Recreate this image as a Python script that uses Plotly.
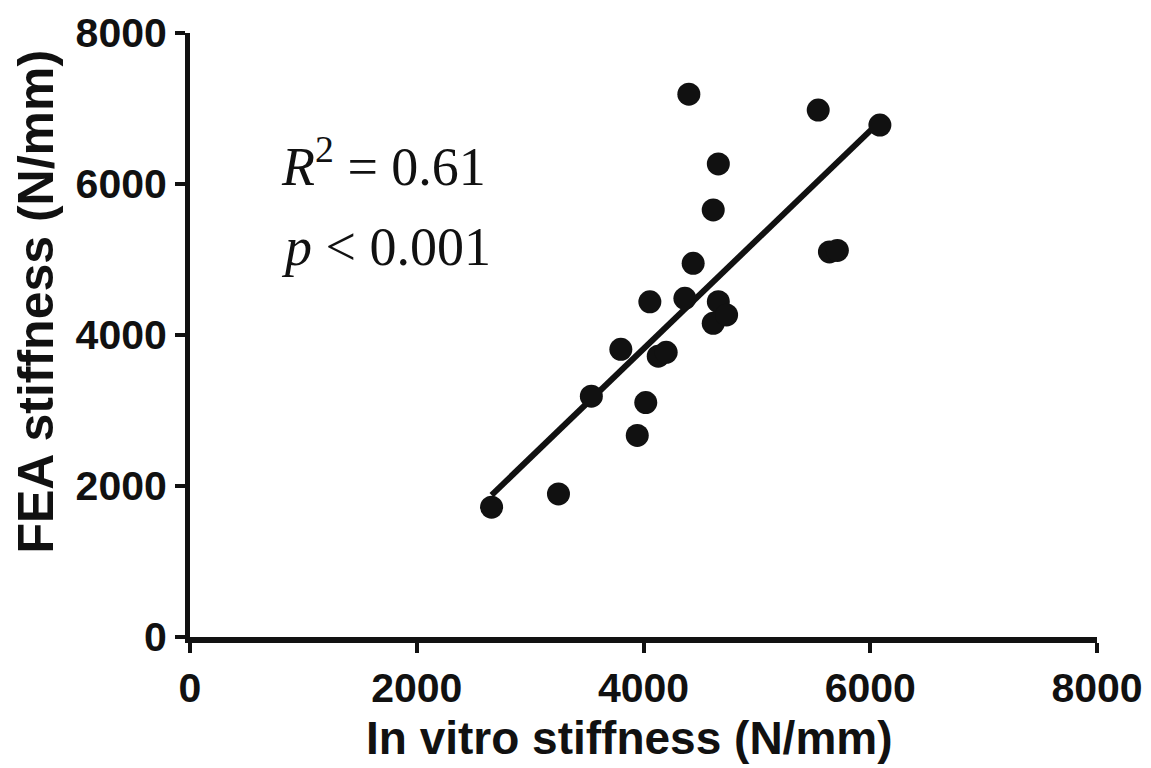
import plotly.graph_objects as go

# Data
in_vitro = [2660, 3250, 3540, 3800, 3945, 4020, 4056, 4130, 4200, 4365, 4400,
            4438, 4615, 4615, 4660, 4660, 4733, 5541, 5640, 5710, 6085]
fea = [1720, 1895, 3190, 3810, 2670, 3105, 4440, 3720, 3770, 4486, 7190,
       4950, 4155, 5656, 4441, 6265, 4265, 6980, 5100, 5120, 6780]

fit_x = [2660, 6085]
fit_y = [1880, 6830]

tick_vals = [0, 2000, 4000, 6000, 8000]
tick_text = ["0", "2000", "4000", "6000", "8000"]

x_title = "In vitro stiffness (N/mm)"
y_title = "FEA stiffness (N/mm)"

fig = go.Figure()
fig.add_trace(go.Scatter(x=fit_x, y=fit_y, mode="lines",
                         line=dict(color="#111111", width=6),
                         showlegend=False, hoverinfo="skip"))
fig.add_trace(go.Scatter(x=in_vitro, y=fea, mode="markers",
                         marker=dict(color="#111111", size=23),
                         showlegend=False))

sans = "Liberation Sans, Arial, sans-serif"
serif = "Liberation Serif, Times New Roman, serif"

axis_common = dict(
    range=[0, 8000], tickvals=tick_vals, ticktext=tick_text,
    showgrid=False, zeroline=False, showline=True, linecolor="#111111",
    ticks="outside", ticklen=10, tickwidth=4, tickcolor="#111111",
    tickfont=dict(family=sans, size=41, color="#111111", weight="bold"),
    automargin=False,
)

fig.update_layout(
    width=1151, height=768,
    margin=dict(l=182, r=62, t=25, b=139),
    plot_bgcolor="white", paper_bgcolor="white",
    xaxis=dict(**axis_common, linewidth=6),
    yaxis=dict(**axis_common, linewidth=5),
    annotations=[
        dict(text=x_title, xref="paper", yref="paper",
             x=0.485, y=-0.168, xanchor="center", yanchor="middle", showarrow=False,
             font=dict(family=sans, size=46, color="#111111", weight="bold")),
        dict(text=y_title, xref="paper", yref="paper", textangle=-90,
             x=-0.170, y=0.555, xanchor="center", yanchor="middle", showarrow=False,
             font=dict(family=sans, size=50, color="#111111", weight="bold")),
        dict(text="<i>R</i><sup>2</sup> = 0.61", xref="paper", yref="paper",
             x=0.098, y=0.785, xanchor="left", yanchor="middle", showarrow=False,
             font=dict(family=serif, size=54, color="#111111")),
        dict(text="<i>p</i> < 0.001", xref="paper", yref="paper",
             x=0.098, y=0.645, xanchor="left", yanchor="middle", showarrow=False,
             font=dict(family=serif, size=54, color="#111111")),
    ],
)

fig.write_html("out.html")
